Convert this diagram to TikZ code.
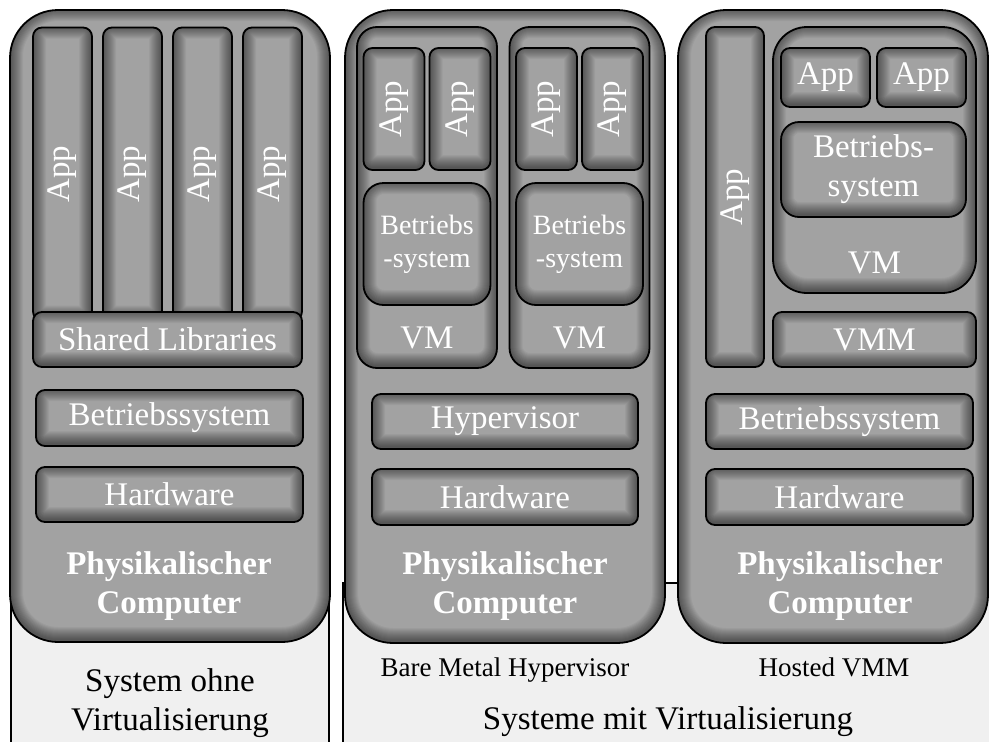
\documentclass[tikz,border=0pt]{standalone}
\usepackage{fontspec}
\setmainfont{Liberation Serif}
\usetikzlibrary{positioning}
\definecolor{kastengrau}{RGB}{162,162,162}
\definecolor{feldgrau}{RGB}{240,240,240}
\newcommand{\gross}{\fontsize{33}{39}\selectfont}
\newcommand{\mittel}{\fontsize{28}{33}\selectfont}
\newcommand{\klein}{\fontsize{27}{30}\selectfont}
\tikzset{
  schicht/.style={draw=black, line width=1.8pt, fill=kastengrau, rounded corners=#1,
    inner sep=0pt, text=white, font=\gross, align=center,
    path picture={
      \foreach \breite in {2,4,...,26}{
        \draw[line width=\breite pt, draw=black, opacity=0.045, rounded corners=#1]
          ([yshift=2pt]path picture bounding box.south west) rectangle ([yshift=2pt]path picture bounding box.north east);
      }
    }},
  schicht/.default=9pt,
  fett/.style={text=white, font=\gross\bfseries, align=center},
  weiss/.style={text=white, font=\gross, align=center},
  feld/.style={draw=black, line width=1.8pt, fill=feldgrau},
  unten/.style={text=black, font=\gross, align=center},
}
\begin{document}
\begin{tikzpicture}[x=1pt, y=-1pt]
  % Rahmen
  \clip (0,0) rectangle (989,742);
  \fill[white] (0,0) rectangle (989,742);
  % Felder unten
  \draw[feld] (11,583) rectangle (329,760);
  \draw[feld] (343,583) rectangle (1000,760);
  % System ohne Virtualisierung
  \node[schicht=48pt, minimum width=320, minimum height=632] (pc1) at (170,326) {};
  \foreach \x [count=\i] in {62.5,132.5,202.5,272.5}
    \node[schicht, minimum width=59, minimum height=293] (app1-\i) at (\x,174) {\rotatebox{90}{App}};
  \node[schicht, minimum width=269, minimum height=55] (lib1) at (167.5,339.5) {Shared Libraries};
  \node[schicht, minimum width=267, minimum height=56] (bs1) at (169.5,418) {Betriebssystem};
  \node[schicht, minimum width=267, minimum height=55] (hw1) at (169.5,494.5) {Hardware};
  \node[fett] (pc1-text) at (169,586) {Physikalischer\\Computer};
  % Bare Metal Hypervisor
  \node[schicht=48pt, minimum width=320, minimum height=633] (pc2) at (505,326.5) {};
  \foreach \x/\vm in {427/a,579.5/b}{
    \node[schicht=20pt, minimum width=140, minimum height=341] (vm2\vm) at (\x,197.5) {};
    \node[weiss] (vm2\vm-text) at (\x,338) {VM};
    \node[schicht=20pt, minimum width=127, minimum height=122, font=\mittel] (bs2\vm) at (\x,244) {Betriebs\\-system};
    \node[schicht, minimum width=61, minimum height=122] (app2\vm-1) at (\x-33,109) {\rotatebox{90}{App}};
    \node[schicht, minimum width=61, minimum height=122] (app2\vm-2) at (\x+33,109) {\rotatebox{90}{App}};
  }
  \node[schicht, minimum width=266, minimum height=55] (hv2) at (505,421.5) {Hypervisor};
  \node[schicht, minimum width=266, minimum height=56] (hw2) at (505,497) {Hardware};
  \node[fett] (pc2-text) at (505,586) {Physikalischer\\Computer};
  % Hosted VMM
  \node[schicht=48pt, minimum width=310, minimum height=633] (pc3) at (833,326.5) {};
  \node[schicht, minimum width=58, minimum height=340] (app3) at (735,197) {\rotatebox{90}{App}};
  \node[schicht=34pt, minimum width=203, minimum height=266] (vm3) at (874.5,160) {};
  \node[weiss] (vm3-text) at (874.5,263) {VM};
  \node[schicht, minimum width=89, minimum height=59] (app3-1) at (825.5,77.5) {App};
  \node[schicht, minimum width=89, minimum height=59] (app3-2) at (921.5,77.5) {App};
  \node[schicht=18pt, minimum width=185, minimum height=95] (bs3g) at (873.5,169.5) {Betriebs-\\system};
  \node[schicht, minimum width=203, minimum height=55] (vmm3) at (874.5,339.5) {VMM};
  \node[schicht, minimum width=267, minimum height=55] (bs3) at (839.5,421.5) {Betriebssystem};
  \node[schicht, minimum width=267, minimum height=56] (hw3) at (839.5,497) {Hardware};
  \node[fett] (pc3-text) at (840,586) {Physikalischer\\Computer};
  % Beschriftungen
  \node[unten] (ohne) at (170,703) {System ohne\\Virtualisierung};
  \node[unten, font=\klein, anchor=base] (bare) at (505,676) {Bare Metal Hypervisor};
  \node[unten, font=\klein, anchor=base] (hosted) at (834,676) {Hosted VMM};
  \node[unten] (mit) at (668,722) {Systeme mit Virtualisierung};
\end{tikzpicture}
\end{document}
